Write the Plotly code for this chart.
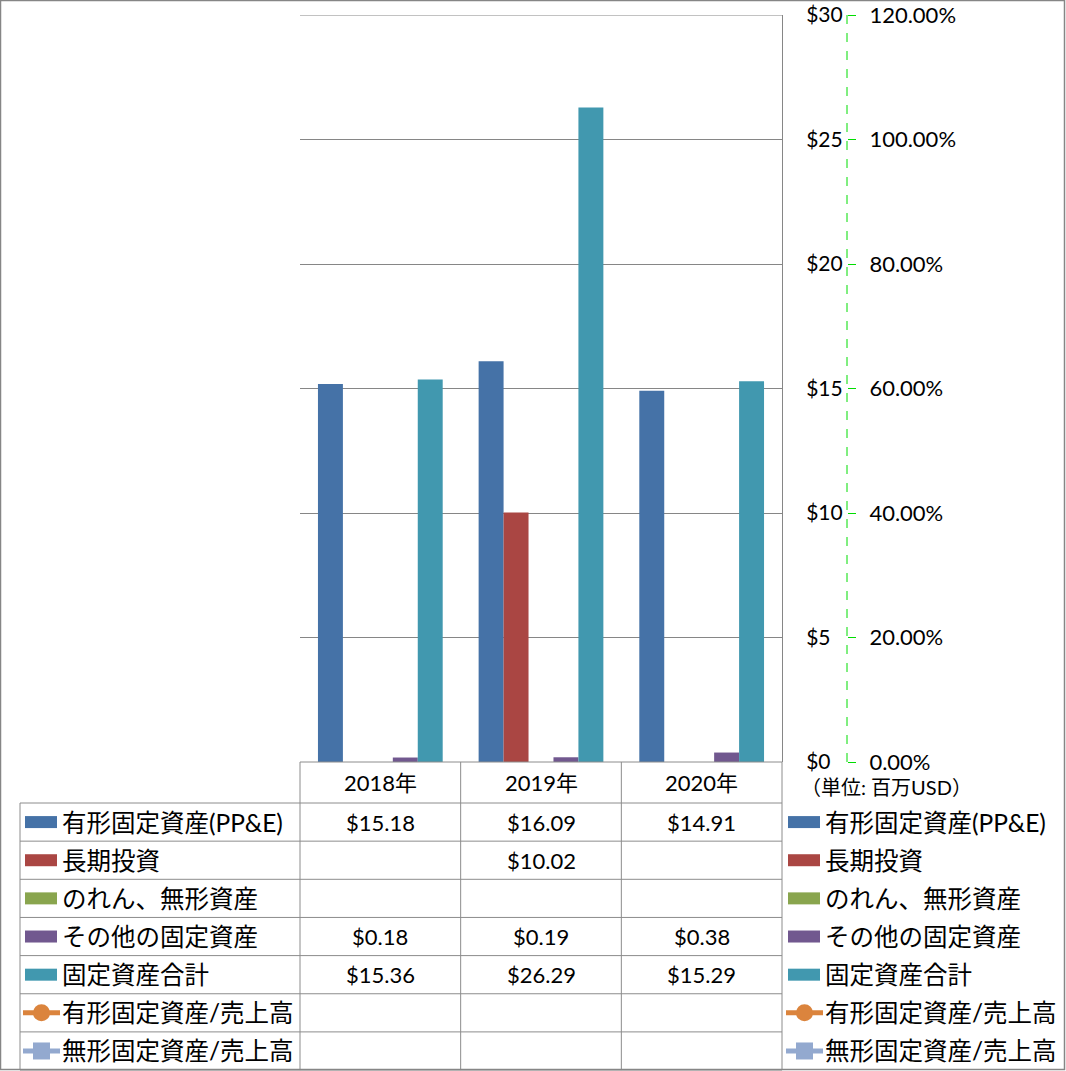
import plotly.graph_objects as go

# ---------------- data ----------------
categories = ['2018年', '2019年', '2020年']
bar_names = ['有形固定資産(PP&E)', '長期投資', 'のれん、無形資産', 'その他の固定資産', '固定資産合計']
ppe = [15.18, 16.09, 14.91]
long_term_invest = [None, 10.02, None]
goodwill_intangibles = [None, None, None]
other_fixed = [0.18, 0.19, 0.38]
total_fixed = [15.36, 26.29, 15.29]
line_names = ['有形固定資産/売上高', '無形固定資産/売上高']
ppe_to_sales = [None, None, None]
intangible_to_sales = [None, None, None]
unit_label = '（単位: 百万USD）'
y_max = 30

bar_values = [ppe, long_term_invest, goodwill_intangibles, other_fixed, total_fixed]

# ---------------- style ----------------
bar_colors = ['#4572A7', '#AA4643', '#89A54E', '#71588F', '#4198AF']
line_colors = ['#DB843D', '#93A9CF']
W, H = 1066, 1071
FONT = 'Lato, "Noto Sans CJK JP", sans-serif'
GRID = '#868686'
TABLE_LINE = '#8C8C8C'


def px(x):
    return x / W


def py(y):
    return 1 - y / H


PLOT_L, PLOT_R, PLOT_T, PLOT_B = 300, 782, 15, 762
Y2_POS = 847
ROW_TOP = 803
ROW_H = 38.15
HEADER_CY = (PLOT_B + ROW_TOP) / 2
TABLE_L = 20

fig = go.Figure()
for name, vals, col in zip(bar_names, bar_values, bar_colors):
    fig.add_trace(go.Bar(x=categories, y=vals, name=name, marker_color=col,
                         marker_line_width=0, showlegend=False))
for name, vals, col, sym in zip(line_names, [ppe_to_sales, intangible_to_sales],
                                line_colors, ['circle', 'square']):
    fig.add_trace(go.Scatter(x=categories, y=vals, name=name, yaxis='y2',
                             mode='lines+markers', line=dict(color=col, width=4),
                             marker=dict(symbol=sym, size=14, color=col),
                             showlegend=False))

shapes = []
annotations = []

# top gridline (at the axis maximum)
shapes.append(dict(type='line', xref='paper', yref='y', x0=px(PLOT_L), x1=px(PLOT_R),
                   y0=y_max, y1=y_max, line=dict(color=GRID, width=1), layer='below'))

# table grid
col_w = (PLOT_R - PLOT_L) / len(categories)
n_rows = len(bar_names) + len(line_names)
row_lines = [ROW_TOP + i * ROW_H for i in range(n_rows + 1)]
bottom = row_lines[-1]
shapes.append(dict(type='line', xref='paper', yref='paper', x0=px(PLOT_L), x1=px(PLOT_R),
                   y0=py(PLOT_B), y1=py(PLOT_B), line=dict(color=TABLE_LINE, width=1)))
for yl in row_lines:
    shapes.append(dict(type='line', xref='paper', yref='paper', x0=px(TABLE_L), x1=px(PLOT_R),
                       y0=py(yl), y1=py(yl), line=dict(color=TABLE_LINE, width=1)))
shapes.append(dict(type='line', xref='paper', yref='paper', x0=px(TABLE_L), x1=px(TABLE_L),
                   y0=py(ROW_TOP), y1=py(bottom), line=dict(color=TABLE_LINE, width=1)))
for k in range(len(categories) + 1):
    xx = PLOT_L + k * col_w
    shapes.append(dict(type='line', xref='paper', yref='paper', x0=px(xx), x1=px(xx),
                       y0=py(PLOT_B), y1=py(bottom), line=dict(color=TABLE_LINE, width=1)))

# header
for c in categories:
    annotations.append(dict(x=c, xref='x', xanchor='center', y=py(HEADER_CY), yref='paper',
                            yanchor='middle', text=c, showarrow=False,
                            font=dict(size=22, color='#000', family=FONT)))

# rows
all_names = bar_names + line_names
all_colors = bar_colors + line_colors
all_values = bar_values + [ppe_to_sales, intangible_to_sales]
for i, (name, col, vals) in enumerate(zip(all_names, all_colors, all_values)):
    cy = ROW_TOP + (i + 0.5) * ROW_H
    for key_x in (25, 788):
        if i < len(bar_names):
            shapes.append(dict(type='rect', xref='paper', yref='paper', x0=px(key_x), x1=px(key_x + 32),
                               y0=py(cy - 6), y1=py(cy + 6), fillcolor=col, line_width=0))
        else:
            shapes.append(dict(type='line', xref='paper', yref='paper', x0=px(key_x - 2), x1=px(key_x + 35),
                               y0=py(cy), y1=py(cy), line=dict(color=col, width=5)))
            kind = 'circle' if i == len(bar_names) else 'rect'
            shapes.append(dict(type=kind, xref='paper', yref='paper', x0=px(key_x + 8), x1=px(key_x + 25),
                               y0=py(cy - 8.5), y1=py(cy + 8.5), fillcolor=col, line_width=0))
        annotations.append(dict(x=px(key_x + 35), xref='paper', xanchor='left', y=py(cy), yref='paper',
                                yanchor='middle', text=name, showarrow=False,
                                font=dict(size=24.5, color='#000', family=FONT)))
    for c, v in zip(categories, vals):
        if v is not None:
            annotations.append(dict(x=c, xref='x', xanchor='center', y=py(cy), yref='paper',
                                    yanchor='middle', text=f'${v:.2f}', showarrow=False,
                                    font=dict(size=22, color='#000', family=FONT)))

# secondary axis dashed line
shapes.append(dict(type='line', xref='paper', yref='paper', x0=px(Y2_POS), x1=px(Y2_POS),
                   y0=py(PLOT_T), y1=py(PLOT_B), line=dict(color='#00DD00', width=1, dash='dash')))
# unit label
annotations.append(dict(x=px(799), xref='paper', xanchor='left', y=py(787), yref='paper',
                        yanchor='middle', text=unit_label, showarrow=False,
                        font=dict(size=20, color='#000', family=FONT)))
# outer border
shapes.append(dict(type='rect', xref='paper', yref='paper', x0=px(0.5), x1=px(1064.5),
                   y0=py(0.5), y1=py(1069.5), line=dict(color='#868686', width=1.5)))

fig.update_layout(
    width=W, height=H, margin=dict(l=0, r=0, t=0, b=0, pad=0, autoexpand=False),
    paper_bgcolor='white', plot_bgcolor='white',
    barmode='group', bargap=0.2236, bargroupgap=0,
    font=dict(family=FONT, size=20, color='#000'),
    xaxis=dict(domain=[px(PLOT_L), px(PLOT_R)], type='category', showticklabels=False,
               ticks='', showgrid=False, zeroline=False, showline=False, automargin=False),
    yaxis=dict(domain=[py(PLOT_B), py(PLOT_T)], range=[0, y_max], dtick=5, side='right',
               tickprefix='$', showgrid=True, gridcolor=GRID, gridwidth=1, zeroline=False,
               showline=True, linecolor=GRID, linewidth=1, ticks='', ticklabelstandoff=19,
               tickfont=dict(size=21, color='#000'), automargin=False),
    yaxis2=dict(overlaying='y', side='right', anchor='free', position=px(Y2_POS),
                range=[0, 1.2], dtick=0.2, tickformat='.2%', showgrid=False, zeroline=False,
                showline=False, ticks='outside', ticklen=8, tickcolor='#00DD00', tickwidth=1,
                ticklabelstandoff=9, tickfont=dict(size=22, color='#000'), automargin=False),
    shapes=shapes, annotations=annotations,
)

fig.write_html('out.html')
